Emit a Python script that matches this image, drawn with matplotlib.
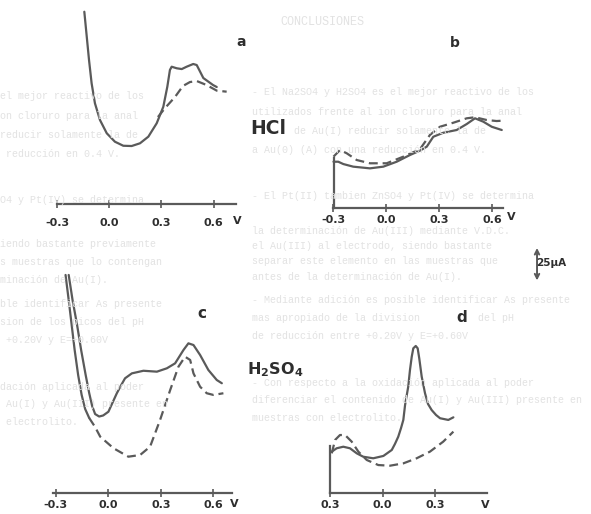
import matplotlib
matplotlib.use("Agg")
import matplotlib.pyplot as plt
from matplotlib import font_manager

W, H, DPI = 591, 514, 100
PX_PER_UA = 1.3

# ---- data (potential in V, current in µA) ----
a_solid_v = [-0.143, -0.129, -0.116, -0.101, -0.082, -0.053, -0.014, 0.033, 0.081, 0.129,
             0.177, 0.225, 0.273, 0.311, 0.334, 0.349, 0.359, 0.388, 0.417, 0.445,
             0.483, 0.503, 0.541, 0.597, 0.618]
a_solid_i = [147.9, 128.7, 110.8, 92.8, 77.5, 64.6, 54.4, 47.9, 44.8, 44.6,
             46.7, 51.8, 62.1, 74.8, 90.2, 103.1, 105.6, 104.4, 103.8, 105.6,
             107.7, 106.9, 96.9, 91.5, 90.0]
a_dash_v = [0.280, 0.321, 0.378, 0.424, 0.464, 0.503, 0.560, 0.618, 0.675]
a_dash_i = [66.9, 73.8, 82.3, 90.8, 93.8, 94.6, 91.5, 87.2, 86.4]

b_solid_v = [-0.300, -0.273, -0.244, -0.188, -0.093, -0.017, 0.059, 0.135, 0.191, 0.230,
             0.267, 0.324, 0.400, 0.457, 0.504, 0.551, 0.599, 0.656]
b_solid_i = [35.6, 35.6, 33.8, 31.8, 30.5, 31.8, 35.6, 40.8, 44.1, 47.2,
             54.8, 57.9, 60.0, 64.6, 69.0, 66.4, 62.5, 60.0]
b_dash_v = [-0.300, -0.263, -0.225, -0.168, -0.093, 0.002, 0.097, 0.191, 0.248, 0.305,
            0.381, 0.457, 0.504, 0.570, 0.627, 0.665]
b_dash_i = [39.5, 44.6, 42.1, 36.9, 34.4, 34.4, 39.5, 45.2, 56.2, 62.5,
            65.6, 69.0, 69.8, 67.7, 66.9, 67.2]

c_solid_v = [-0.227, -0.205, -0.179, -0.156, -0.130, -0.110, -0.093, -0.076, -0.053, -0.030,
             0.000, 0.048, 0.073, 0.095, 0.134, 0.200, 0.277, 0.334, 0.381, 0.429,
             0.457, 0.486, 0.524, 0.571, 0.619, 0.648]
c_solid_i = [167.5, 148.2, 129.0, 109.8, 90.5, 76.7, 66.7, 60.5, 58.6, 59.4,
             62.3, 76.5, 82.8, 88.0, 91.8, 93.8, 93.1, 95.7, 99.5, 109.8,
             114.9, 113.6, 105.9, 94.4, 86.7, 84.2]
c_back_v = [-0.245, -0.227, -0.210, -0.193, -0.173, -0.153, -0.133, -0.110]
c_back_i = [167.5, 148.2, 129.0, 109.8, 90.5, 75.2, 64.4, 57.5]
c_dash_v = [-0.110, -0.076, -0.047, 0.029, 0.114, 0.181, 0.238, 0.295, 0.353, 0.400,
            0.438, 0.467, 0.486, 0.524, 0.562, 0.600, 0.657]
c_dash_i = [57.5, 50.5, 43.1, 34.2, 27.7, 29.0, 35.4, 55.9, 79.0, 96.9,
            104.6, 102.1, 91.8, 81.5, 76.5, 75.2, 76.5]

d_solid_v = [-0.290, -0.262, -0.224, -0.186, -0.147, -0.110, -0.053, 0.005, 0.053, 0.071,
             0.090, 0.106, 0.119, 0.129, 0.147, 0.157, 0.167, 0.176, 0.190, 0.201,
             0.210, 0.224, 0.243, 0.260, 0.281, 0.306, 0.329, 0.376, 0.405]
d_solid_i = [31.8, 34.4, 35.6, 34.4, 30.5, 27.9, 26.7, 28.5, 33.1, 37.7,
             43.3, 50.0, 56.2, 67.7, 81.8, 94.6, 104.8, 111.3, 113.1, 111.3,
             103.6, 89.5, 76.7, 68.5, 63.8, 60.0, 57.5, 56.2, 58.2]
d_dash_v = [-0.290, -0.271, -0.243, -0.214, -0.176, -0.138, -0.090, -0.024, 0.043, 0.119,
            0.195, 0.271, 0.347, 0.405]
d_dash_i = [30.5, 40.8, 44.6, 44.6, 39.5, 31.8, 25.4, 21.5, 21.0, 22.8,
            26.7, 31.8, 39.5, 47.2]

ticks_abc = [-0.3, 0.0, 0.3, 0.6]
ticklabels_abc = ["-0.3", "0.0", "0.3", "0.6"]
ticks_d = [-0.3, 0.0, 0.3]
ticklabels_d = ["0.3", "0.0", "0.3"]
scale_ua = 25

# faint show-through text of the scanned page: (x_left, y, text)
ghost_title = "CONCLUSIONES"
ghost_right = [
    (252, 92, "- El Na2SO4 y H2SO4 es el mejor reactivo de los"),
    (252, 112, "utilizados frente al ion cloruro para la anal"),
    (294, 131, "de Au(I) reducir solamente la de"),
    (252, 150, "a Au(0) (A) con una reducción en 0.4 V."),
    (252, 196, "- El Pt(II) tambien ZnSO4 y Pt(IV) se determina"),
    (252, 231, "la determinación de Au(III) mediante V.D.C."),
    (252, 246, "el Au(III) al electrodo, siendo bastante"),
    (252, 261, "separar este elemento en las muestras que"),
    (252, 277, "antes de la determinación de Au(I)."),
    (252, 300, "- Mediante adición es posible identificar As presente"),
    (252, 318, "mas apropiado de la division"),
    (478, 318, "del pH"),
    (252, 336, "de reducción entre +0.20V y E=+0.60V"),
    (252, 383, "- Con respecto a la oxidación aplicada al poder"),
    (252, 400, "diferenciar el contenido de Au(I) y Au(III) presente en"),
    (252, 418, "muestras con electrolito."),
]
ghost_left = [
    (0, 96, "el mejor reactivo de los"),
    (0, 116, "on cloruro para la anal"),
    (0, 135, "reducir solamente la de"),
    (0, 154, " reducción en 0.4 V."),
    (0, 200, "O4 y Pt(IV) se determina"),
    (0, 244, "iendo bastante previamente"),
    (0, 262, "s muestras que lo contengan"),
    (0, 280, "minación de Au(I)."),
    (0, 304, "ble identificar As presente"),
    (0, 322, "sion de los picos del pH"),
    (0, 340, " +0.20V y E=+0.60V"),
    (0, 387, "dación aplicada al poder"),
    (0, 404, " Au(I) y Au(III) presente en"),
    (0, 422, " electrolito."),
]

LINE = "#5a5a5a"
TEXT = "#2e2e2e"
GHOST = "#e2e2e2"
LW = 1.6

avail = {f.name for f in font_manager.fontManager.ttflist}
MONO = "Liberation Mono" if "Liberation Mono" in avail else "DejaVu Sans Mono"

fig = plt.figure(figsize=(W / DPI, H / DPI), dpi=DPI)
fig.patch.set_facecolor("white")


def ftext(x, y, s, color=TEXT, ha="center", **kw):
    fig.text(x / W, 1 - y / H, s, ha=ha, va="center", color=color, **kw)


# ghost text (drawn first, underneath)
ftext(322, 22, ghost_title, color=GHOST, family=MONO, fontsize=8.5)
for xx, yy, s in ghost_right + ghost_left:
    ftext(xx, yy, s, color=GHOST, ha="left", family=MONO, fontsize=7.2)


def make_ax(xlim, left_px, px_per_v, yb_px, ytop_px):
    width_px = (xlim[1] - xlim[0]) * px_per_v
    ax = fig.add_axes([left_px / W, 1 - yb_px / H, width_px / W, (yb_px - ytop_px) / H])
    ax.set_xlim(*xlim)
    ax.set_ylim(0, (yb_px - ytop_px) / PX_PER_UA)
    ax.patch.set_alpha(0)
    for s in ("top", "right", "left"):
        ax.spines[s].set_visible(False)
    ax.spines["bottom"].set_color(LINE)
    ax.spines["bottom"].set_linewidth(LW)
    ax.set_yticks([])
    ax.tick_params(axis="x", direction="inout", length=6, width=1.2, color=LINE,
                   labelsize=8, labelcolor=TEXT, pad=4)
    return ax


def tick_font(ax):
    for lab in ax.get_xticklabels():
        lab.set_fontweight("bold")
        lab.set_family("DejaVu Sans")


dash = (0, (4, 2.2))


def draw(ax, v, i, dashed=False):
    if dashed:
        ax.plot(v, i, color=LINE, lw=LW, ls=dash, clip_on=False, dash_joinstyle="round")
    else:
        ax.plot(v, i, color=LINE, lw=LW, clip_on=False, solid_joinstyle="round",
                solid_capstyle="round")


# panel a
ax_a = make_ax((-0.30, 0.73), 57, 174, 204, 0)
draw(ax_a, a_solid_v, a_solid_i)
draw(ax_a, a_dash_v, a_dash_i, dashed=True)
ax_a.set_xticks(ticks_abc, ticklabels_abc)
ax_a.tick_params(axis="x", pad=7)
tick_font(ax_a)

# panel b
ax_b = make_ax((-0.30, 0.665), 333.5, 176, 208, 0)
ax_b.spines["left"].set_visible(True)
ax_b.spines["left"].set_color(LINE)
ax_b.spines["left"].set_linewidth(LW)
ax_b.spines["left"].set_bounds(0, 38.5)
draw(ax_b, b_solid_v, b_solid_i)
draw(ax_b, b_dash_v, b_dash_i, dashed=True)
ax_b.set_xticks(ticks_abc, ticklabels_abc)
ax_b.tick_params(axis="x", pad=2)
tick_font(ax_b)

# panel c
ax_c = make_ax((-0.315, 0.705), 53.3, 175, 492.7, 260)
draw(ax_c, c_solid_v, c_solid_i)
draw(ax_c, c_back_v, c_back_i)
draw(ax_c, c_dash_v, c_dash_i, dashed=True)
ax_c.set_xticks(ticks_abc, ticklabels_abc)
ax_c.tick_params(axis="x", pad=2)
tick_font(ax_c)

# panel d
ax_d = make_ax((-0.30, 0.595), 330, 175, 493, 260)
ax_d.spines["left"].set_visible(True)
ax_d.spines["left"].set_color(LINE)
ax_d.spines["left"].set_linewidth(LW)
ax_d.spines["left"].set_bounds(0, 36)
draw(ax_d, d_solid_v, d_solid_i)
draw(ax_d, d_dash_v, d_dash_i, dashed=True)
ax_d.set_xticks(ticks_d, ticklabels_d)
ax_d.tick_params(axis="x", pad=2)
tick_font(ax_d)

# current scale bar (25 µA)
ax_d.annotate("", xy=(0.883, 188.5), xytext=(0.883, 188.5 - scale_ua),
              arrowprops=dict(arrowstyle="<->", color=LINE, lw=1.4,
                              shrinkA=0, shrinkB=0, mutation_scale=8),
              annotation_clip=False)

ftext(551, 263, "25µA", fontsize=7.5, fontweight="bold")
ftext(237, 221, "V", fontsize=8, fontweight="bold")
ftext(511, 217, "V", fontsize=8, fontweight="bold")
ftext(234, 504, "V", fontsize=8, fontweight="bold")
ftext(485, 505, "V", fontsize=8, fontweight="bold")

ftext(241, 42, "a", fontsize=10, fontweight="bold")
ftext(455, 43, "b", fontsize=10, fontweight="bold")
ftext(202, 313, "c", fontsize=11, fontweight="bold")
ftext(462, 318, "d", fontsize=11, fontweight="bold")
ftext(268, 128, "HCl", fontsize=13.5, fontweight="bold")
ftext(275, 370, "H$_\\mathbf{2}$SO$_\\mathbf{4}$", fontsize=11.5, fontweight="bold")

fig.savefig("out.png", dpi=DPI, facecolor="white")
